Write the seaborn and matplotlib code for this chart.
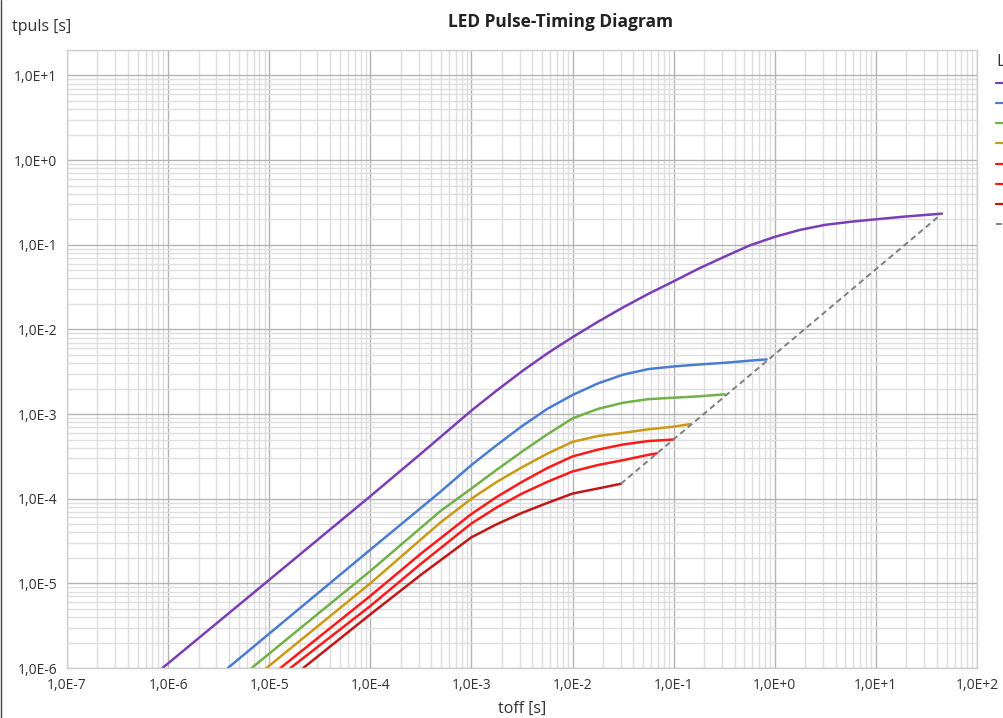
import numpy as np
import pandas as pd
import seaborn as sns
import matplotlib.pyplot as plt
from matplotlib.lines import Line2D
from matplotlib.ticker import LogLocator, FuncFormatter

# --- DATA ---
series_names = ["D 1", "D 2", "D 3", "D 4", "D 5", "D 6", "D 7"]

toff_purple = [8.8e-7, 1e-5, 1e-4, 3.16e-4, 1e-3, 1.78e-3, 3.16e-3, 5.62e-3, 1e-2, 1.78e-2, 3.16e-2, 5.62e-2,
               0.1, 0.178, 0.316, 0.562, 1.0, 1.78, 3.16, 5.62, 10.0, 20.0, 45.0]
tpuls_purple = [1.0e-6, 1.1e-5, 1.07e-4, 3.4e-4, 1.1e-3, 1.9e-3, 3.2e-3, 5.2e-3, 8.1e-3, 1.23e-2, 1.82e-2, 2.63e-2,
                3.7e-2, 5.25e-2, 7.2e-2, 9.8e-2, 0.124, 0.15, 0.172, 0.187, 0.2, 0.216, 0.233]

toff_blue = [3.9e-6, 1e-4, 4.9e-4, 1e-3, 1.78e-3, 3.16e-3, 5.62e-3, 1e-2, 1.78e-2, 3.16e-2, 5.62e-2,
             0.1, 0.178, 0.316, 0.562, 0.83]
tpuls_blue = [1.0e-6, 2.5e-5, 1.2e-4, 2.5e-4, 4.3e-4, 7.2e-4, 1.15e-3, 1.68e-3, 2.3e-3, 2.92e-3, 3.4e-3,
              3.65e-3, 3.85e-3, 4.03e-3, 4.27e-3, 4.42e-3]

toff_green = [6.7e-6, 1e-4, 4.9e-4, 1e-3, 1.78e-3, 3.16e-3, 5.62e-3, 1e-2, 1.78e-2, 3.16e-2, 5.62e-2, 0.1, 0.178, 0.32]
tpuls_green = [1.0e-6, 1.4e-5, 7.1e-5, 1.32e-4, 2.2e-4, 3.6e-4, 5.75e-4, 8.9e-4, 1.15e-3, 1.36e-3, 1.5e-3,
               1.56e-3, 1.62e-3, 1.71e-3]

toff_gold = [9.4e-6, 1e-4, 4.9e-4, 1e-3, 1.78e-3, 3.16e-3, 5.62e-3, 1e-2, 1.78e-2, 3.16e-2, 5.62e-2, 0.1, 0.145]
tpuls_gold = [1.0e-6, 1.0e-5, 5.2e-5, 1.0e-4, 1.58e-4, 2.35e-4, 3.4e-4, 4.7e-4, 5.5e-4, 6.0e-4, 6.6e-4, 7.1e-4, 7.6e-4]

toff_red1 = [1.29e-5, 1e-4, 3.16e-4, 1e-3, 1.78e-3, 3.16e-3, 5.62e-3, 1e-2, 1.78e-2, 3.16e-2, 5.62e-2, 0.1]
tpuls_red1 = [1.0e-6, 7.1e-6, 2.24e-5, 6.6e-5, 1.05e-4, 1.58e-4, 2.3e-4, 3.16e-4, 3.8e-4, 4.37e-4, 4.8e-4, 5.0e-4]

toff_red2 = [1.62e-5, 1e-4, 3.16e-4, 1e-3, 1.78e-3, 3.16e-3, 5.62e-3, 1e-2, 1.78e-2, 3.16e-2, 5.62e-2, 0.068]
tpuls_red2 = [1.0e-6, 5.4e-6, 1.7e-5, 5.1e-5, 7.9e-5, 1.15e-4, 1.58e-4, 2.1e-4, 2.5e-4, 2.85e-4, 3.3e-4, 3.43e-4]

toff_dred = [2.17e-5, 1e-4, 3.16e-4, 1e-3, 1.78e-3, 3.16e-3, 5.62e-3, 1e-2, 1.78e-2, 3e-2]
tpuls_dred = [1.0e-6, 4.3e-6, 1.26e-5, 3.5e-5, 5.0e-5, 6.8e-5, 8.9e-5, 1.15e-4, 1.32e-4, 1.5e-4]

toff_limit = [3e-2, 45.0]
tpuls_limit = [1.5e-4, 0.233]

farben = ["#7b3fb4", "#4a7dd0", "#72b04a", "#c99a14", "#ff1a1a", "#ff1a1a", "#c01818"]

x_ticks = [1e-7, 1e-6, 1e-5, 1e-4, 1e-3, 1e-2, 1e-1, 1e0, 1e1, 1e2]
y_ticks = [1e-6, 1e-5, 1e-4, 1e-3, 1e-2, 1e-1, 1e0, 1e1]

# --- DataFrame (long format for seaborn) ---
alle_x = [toff_purple, toff_blue, toff_green, toff_gold, toff_red1, toff_red2, toff_dred]
alle_y = [tpuls_purple, tpuls_blue, tpuls_green, tpuls_gold, tpuls_red1, tpuls_red2, tpuls_dred]
teile = []
for name, xs, ys in zip(series_names, alle_x, alle_y):
    teile.append(pd.DataFrame({"toff": xs, "tpuls": ys, "Kurve": name}))
df = pd.concat(teile, ignore_index=True)
df_limit = pd.DataFrame({"toff": toff_limit, "tpuls": tpuls_limit})


def fmt_e(v, pos):
    e = int(round(np.log10(v)))
    return "1,0E%+d" % e


sns.set_theme(style="white")
plt.rcParams["font.family"] = ["Open Sans", "DejaVu Sans"]

fig = plt.figure(figsize=(10.04, 7.18), dpi=100)
ax = fig.add_axes([67 / 1004, 1 - 668 / 718, (977 - 67) / 1004, (668 - 50) / 718])

sns.lineplot(data=df, x="toff", y="tpuls", hue="Kurve", palette=farben,
             sort=False, estimator=None, linewidth=1.8, ax=ax, legend=False)
sns.lineplot(data=df_limit, x="toff", y="tpuls", color="#7f7f7f", linestyle=(0, (3, 2)),
             linewidth=1.4, sort=False, estimator=None, ax=ax)
for l in ax.get_lines():
    l.set_solid_joinstyle("round")

ax.set_xscale("log")
ax.set_yscale("log")
ax.set_xlim(1e-7, 1e2)
ax.set_ylim(1e-6, 20)
ax.set_xticks(x_ticks)
ax.set_yticks(y_ticks)
ax.xaxis.set_minor_locator(LogLocator(base=10, subs=np.arange(2, 10), numticks=100))
ax.yaxis.set_minor_locator(LogLocator(base=10, subs=np.arange(2, 10), numticks=100))
ax.xaxis.set_major_formatter(FuncFormatter(fmt_e))
ax.yaxis.set_major_formatter(FuncFormatter(fmt_e))
ax.xaxis.set_minor_formatter(FuncFormatter(lambda v, p: ""))
ax.yaxis.set_minor_formatter(FuncFormatter(lambda v, p: ""))

ax.grid(True, which="major", color="#b4b4b4", linewidth=1.0)
ax.grid(True, which="minor", color="#dedede", linewidth=1.0)
ax.set_axisbelow(True)
ax.tick_params(which="both", length=0, labelsize=10, colors="#333333", pad=7)
for s in ax.spines.values():
    s.set_color("#d0d0d0")
    s.set_linewidth(1.0)

ax.set_xlabel("toff [s]", fontsize=11.5, color="#333333", labelpad=6)
ax.set_ylabel("")
fig.text(12 / 1004, 1 - 27 / 718, "tpuls [s]", fontsize=11.5, color="#333333", va="center", ha="left")
fig.text(561 / 1004, 1 - 22 / 718, "LED Pulse-Timing Diagram", fontsize=12.5, fontweight="bold",
         color="#222222", ha="center", va="center")

# Legende rechts (im Original vom Bildrand abgeschnitten, nur "L" und Linienstuecke sichtbar)
handles = [Line2D([], [], color=c, linewidth=1.6) for c in farben]
handles.append(Line2D([], [], color="#7f7f7f", linewidth=1.4, linestyle=(0, (3, 2))))
labels = [" "] * len(handles)
leg = fig.legend(handles, labels, loc="upper left", bbox_to_anchor=(996 / 1004, 1 - 54 / 718),
                 frameon=False, title="L", fontsize=9.5, title_fontsize=12,
                 borderpad=0, borderaxespad=0, handlelength=1.5, labelspacing=0.55, handletextpad=0.3)
leg._legend_box.align = "left"
leg.get_title().set_color("#333333")

# linker Rahmen
fig.add_artist(Line2D([1.5 / 1004, 1.5 / 1004], [0, 1], transform=fig.transFigure, color="#444444", linewidth=1.0))

fig.savefig("out.png", dpi=100)
